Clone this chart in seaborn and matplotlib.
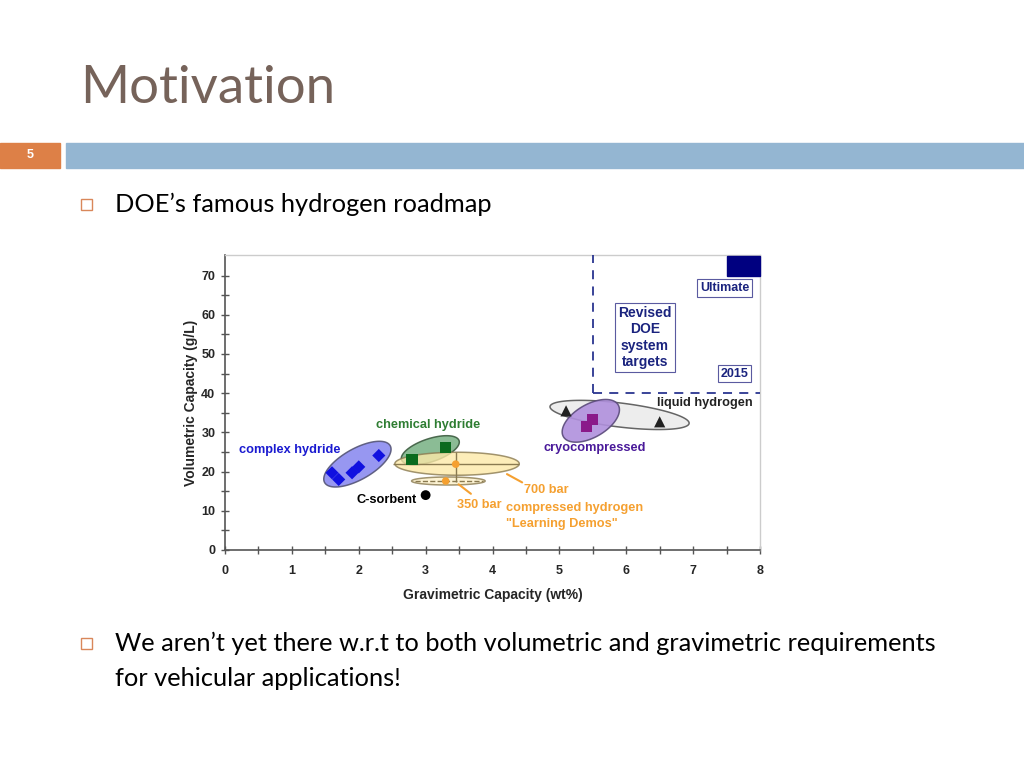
import numpy as np
import pandas as pd
import matplotlib
matplotlib.use("Agg")
import matplotlib.pyplot as plt
from matplotlib.patches import Rectangle
import seaborn as sns

# data
groups = ["complex hydride"] * 5 + ["chemical hydride"] * 2 + ["C-sorbent"] + \
         ["liquid hydrogen"] * 2 + ["cryocompressed"] * 2 + ["700 bar", "350 bar"]
grav = [1.6, 1.7, 1.9, 2.0, 2.3, 2.8, 3.3, 3.0, 5.1, 6.5, 5.5, 5.4, 3.45, 3.3]
vol = [19.7, 18.0, 19.7, 21.2, 24.1, 23.1, 26.1, 14.0, 35.5, 32.7, 33.3, 31.5, 21.9, 17.6]

target_2015 = (5.5, 40)
target_ultimate = (7.5, 70)

# ellipses: two ends of the long axis (data units) and half-width in pixels
ellipses = {
    "complex hydride": ((1.49, 17.2), (2.47, 26.6), 15.5, "#8c8cf0", "#555577"),
    "chemical hydride": ((2.64, 23.0), (3.50, 27.9), 11.5, "#7fb58a", "#3d5c40"),
    "liquid hydrogen": ((4.86, 36.6), (6.94, 32.3), 12, "#ececec", "#555555"),
    "cryocompressed": ((5.06, 28.9), (5.88, 37.0), 16.5, "#b090dd", "#5a4a7a"),
    "700 bar": ((2.54, 22.0), (4.40, 22.0), 11.5, "#fde9a8", "#8a7a50"),
    "350 bar": ((2.79, 17.6), (3.89, 17.6), 4, "#fdf1c8", "#8a7a50"),
}

colors = {"complex hydride": "#1010e0", "chemical hydride": "#0b6b1e",
          "C-sorbent": "black", "liquid hydrogen": "#222222",
          "cryocompressed": "#8a1a8a", "700 bar": "#f5a030", "350 bar": "#f5a030"}
markers = {"complex hydride": "D", "chemical hydride": "s", "C-sorbent": "o",
           "liquid hydrogen": "^", "cryocompressed": "s", "700 bar": "o", "350 bar": "o"}
sizes = {"complex hydride": 45, "chemical hydride": 70, "C-sorbent": 50,
         "liquid hydrogen": 65, "cryocompressed": 65, "700 bar": 30, "350 bar": 30}

df = pd.DataFrame({"grav": grav, "vol": vol, "group": groups})

sns.set_style("ticks")
plt.rcParams["font.family"] = ["Liberation Sans", "DejaVu Sans"]

fig = plt.figure(figsize=(10.24, 7.68), dpi=100)
W, H = 1024, 768

# slide decoration
fig.text(80 / W, 1 - 103 / H, "Motivation", fontsize=38, color="#76635a",
         family=["Lato", "DejaVu Sans"], va="baseline")
fig.patches.append(Rectangle((0, 1 - 168 / H), 60 / W, 25 / H, transform=fig.transFigure,
                             color="#dd8047", zorder=0))
fig.patches.append(Rectangle((66 / W, 1 - 168 / H), 1 - 66 / W, 25 / H,
                             transform=fig.transFigure, color="#94b6d2", zorder=0))
fig.text(30 / W, 1 - 155 / H, "5", color="white", fontsize=9, fontweight="bold",
         ha="center", va="center")
for by in (204, 643):
    fig.patches.append(Rectangle((81 / W, 1 - (by + 6) / H), 11 / W, 11 / H,
                                 transform=fig.transFigure, fill=False,
                                 ec="#d9875a", lw=1))
body = dict(fontsize=18.3, color="black", family=["Lato", "DejaVu Sans"], va="center")
fig.text(115 / W, 1 - 204 / H, "DOE\u2019s famous hydrogen roadmap", **body)
fig.text(115 / W, 1 - 643 / H,
         "We aren\u2019t yet there w.r.t to both volumetric and gravimetric requirements", **body)
fig.text(115 / W, 1 - 678 / H, "for vehicular applications!", **body)

ax = fig.add_axes([225 / W, 218 / H, 535 / W, 295 / H])
ax.set_xlim(0, 8)
ax.set_ylim(0, 75.25)


def draw_ellipse(p1, p2, half_w, fc, ec, alpha=1.0, z=2):
    a = ax.transData.transform(p1)
    b = ax.transData.transform(p2)
    c = (a + b) / 2
    u = (b - a) / 2
    n = np.array([-u[1], u[0]]) / np.hypot(*u) * half_w
    t = np.linspace(0, 2 * np.pi, 200)
    pts = c + np.outer(np.cos(t), u) + np.outer(np.sin(t), n)
    d = ax.transData.inverted().transform(pts)
    ax.fill(d[:, 0], d[:, 1], fc=fc, ec=ec, lw=1.1, alpha=alpha, zorder=z)


fig.canvas.draw()
for name in ["complex hydride", "chemical hydride", "liquid hydrogen", "cryocompressed"]:
    p1, p2, hw, fc, ec = ellipses[name]
    draw_ellipse(p1, p2, hw, fc, ec, alpha=0.9)
for name in ["700 bar", "350 bar"]:
    p1, p2, hw, fc, ec = ellipses[name]
    draw_ellipse(p1, p2, hw, fc, ec, alpha=0.8, z=3)

# error bars for compressed hydrogen
ax.errorbar([3.45], [21.9], xerr=[[0.94], [0.95]], yerr=[[4.5], [3.2]],
            fmt="none", ecolor="#8a7a50", elinewidth=1, zorder=4)
ax.plot([2.84, 3.86], [17.6, 17.6], ls="--", color="#8a7a50", lw=1, zorder=4)

sns.scatterplot(data=df, x="grav", y="vol", hue="group", style="group", size="group",
                palette=colors, markers=markers, sizes=sizes, linewidth=0,
                legend=False, ax=ax, zorder=5)

# DOE targets
navy = "#1a237e"
ax.plot([target_2015[0], target_2015[0]], [target_2015[1], 75.25], ls=(0, (5, 4)),
        color="#2a3590", lw=1.3, zorder=6)
ax.plot([target_2015[0], 8], [target_2015[1], target_2015[1]], ls=(0, (5, 4)),
        color="#2a3590", lw=1.3, zorder=6)
ax.add_patch(Rectangle(target_ultimate, 0.5, 5, color="#000080", zorder=6, clip_on=False))

box = dict(boxstyle="square,pad=0.22", fc="white", ec="#5a5aa0", lw=0.8)
ax.text(7.47, 66.8, "Ultimate", color=navy, fontsize=9, fontweight="bold",
        ha="center", va="center", bbox=box)
ax.text(7.62, 45.0, "2015", color=navy, fontsize=9, fontweight="bold",
        ha="center", va="center", bbox=box)
ax.text(6.28, 54.2, "Revised\nDOE\nsystem\ntargets", color=navy, fontsize=10,
        fontweight="bold", ha="center", va="center", linespacing=1.2, bbox=box)

# labels
lab = dict(fontsize=9.2, fontweight="bold", ha="center", va="center")
ax.text(0.97, 25.5, "complex hydride", color="#1a1ad0", **lab)
ax.text(3.04, 31.9, "chemical hydride", color="#2e7d32", **lab)
ax.text(2.41, 12.8, "C-sorbent", color="black", **lab)
ax.text(7.17, 37.6, "liquid hydrogen", color="#222222", **lab)
ax.text(5.53, 25.9, "cryocompressed", color="#4a1a9a", **lab)
orange = "#f5a030"
ax.text(3.81, 11.6, "350 bar", color=orange, **lab)
ax.text(4.80, 15.3, "700 bar", color=orange, **lab)
ax.text(5.22, 10.6, "compressed hydrogen", color=orange, **lab)
ax.text(5.03, 6.6, "\"Learning Demos\"", color=orange, **lab)
ax.annotate("", xy=(4.18, 19.7), xytext=(4.48, 16.9),
            arrowprops=dict(arrowstyle="-", color=orange, lw=1.5))
ax.annotate("", xy=(3.46, 17.2), xytext=(3.71, 13.9),
            arrowprops=dict(arrowstyle="-", color=orange, lw=1.5))

# axes styling
ax.set_xticks(range(0, 9))
ax.set_yticks(range(0, 71, 10))
ax.set_xticks(np.arange(0, 8.01, 0.5), minor=True)
ax.set_yticks(range(0, 75, 5), minor=True)
ax.tick_params(which="both", direction="inout", length=6, width=1, color="#555555",
               labelsize=9)
ax.tick_params(axis="x", pad=8)
ax.tick_params(axis="y", pad=4)
for lbl in ax.get_xticklabels() + ax.get_yticklabels():
    lbl.set_fontweight("bold")
ax.set_xlabel("Gravimetric Capacity (wt%)", fontsize=10, fontweight="bold", labelpad=8)
ax.set_ylabel("Volumetric Capacity (g/L)", fontsize=10, fontweight="bold", labelpad=2)
for s in ["left", "bottom"]:
    ax.spines[s].set_color("#555555")
    ax.spines[s].set_linewidth(1.2)
for s in ["top", "right"]:
    ax.spines[s].set_color("#cccccc")
    ax.spines[s].set_linewidth(1)

fig.savefig("out.png", dpi=100)
